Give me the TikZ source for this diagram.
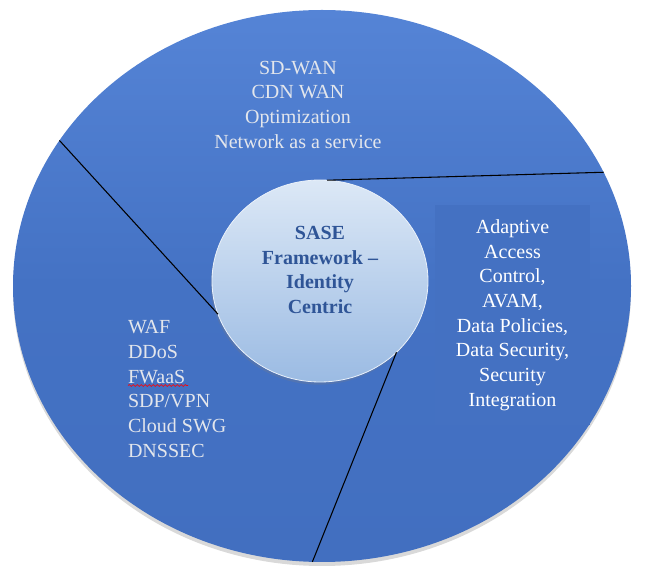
\documentclass[tikz,border=0pt]{standalone}
\usepackage{fontspec}
\setmainfont{Liberation Serif}
\usepackage{tikz}
\usetikzlibrary{shapes.geometric,shadows,decorations.pathmorphing}

\definecolor{RingBlue}{HTML}{4472C4}
\definecolor{RingTop}{HTML}{5584D6}
\definecolor{RingLow}{HTML}{426FC0}
\definecolor{BoxBlue}{HTML}{4471C2}
\definecolor{CoreTop}{HTML}{DCE8F6}
\definecolor{CoreLow}{HTML}{9BBBE3}
\definecolor{CoreInk}{HTML}{2F5597}
\definecolor{SoftWhite}{HTML}{E3E6EC}

\begin{document}
\begin{tikzpicture}[
    x=0.75pt, y=0.75pt,
    every node/.style={font=\fontsize{15pt}{18.5pt}\selectfont, inner sep=0pt, outer sep=0pt},
    ring/.style={ellipse, minimum width=463.5pt, minimum height=414pt,
        top color=RingTop, bottom color=RingLow, middle color=RingBlue,
        drop shadow={shadow xshift=0pt, shadow yshift=-3pt, opacity=0.3}},
    core/.style={ellipse, minimum width=162pt, minimum height=151.5pt,
        top color=CoreTop, bottom color=CoreLow, draw=CoreTop!60!white, line width=0.6pt,
        drop shadow={shadow xshift=-1pt, shadow yshift=-2pt, opacity=0.25}},
    divider/.style={draw=black, line width=0.8pt},
    sector/.style={text=SoftWhite, align=center},
    coretext/.style={text=CoreInk, font=\fontsize{15pt}{18.5pt}\selectfont\bfseries, align=center}]

    \useasboundingbox (0,0) rectangle (661,582);

    \node[ring] (ring) at (322,296) {};
    \node[core] (core) at (320,301) {};

    % dividers between the three sectors
    \draw[divider] (ring.151.7) -- (core.198.4);
    \draw[divider] (core.86) -- (ring.22.5);
    \draw[divider] (core.-43.5) -- (ring.-92);

    \node[coretext] (coretxt) at (320,312) {SASE\\Framework --\\Identity\\Centric};

    \node[sector] (wan) at (298,477.25) {SD-WAN\\CDN WAN\\Optimization\\Network as a service};
    \node[sector, align=left, anchor=west] (edge) at (128,193)
        {WAF\\DDoS\\FWaaS\\SDP/VPN\\Cloud SWG\\DNSSEC};
    \node[sector, text=white, fill=BoxBlue, minimum width=116pt, minimum height=165pt]
        (access) at (512.5,267)
        {Adaptive\\Access\\Control,\\AVAM,\\Data Policies,\\Data Security,\\Security\\Integration};

    \draw[red, line width=0.5pt, decorate,
        decoration={snake, segment length=3pt, amplitude=0.7pt}] (128,196.5) -- (188,196.5);

\end{tikzpicture}
\end{document}
